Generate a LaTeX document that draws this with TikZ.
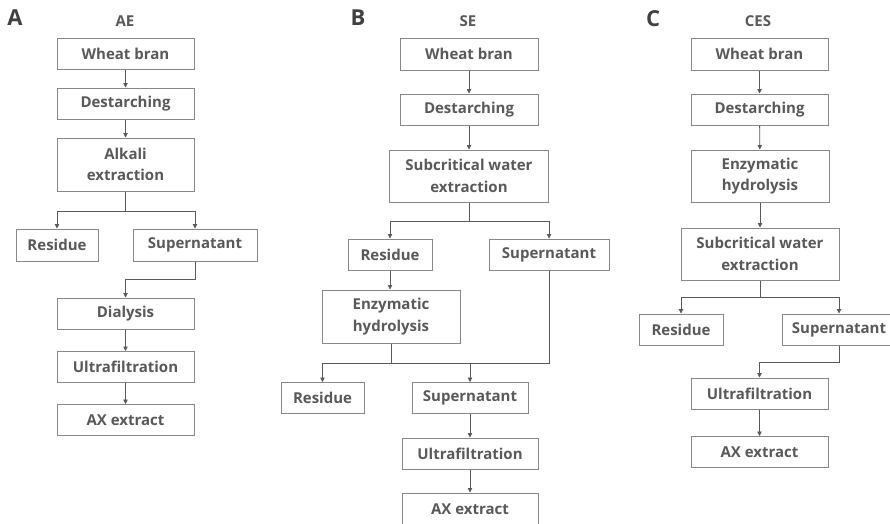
\documentclass[tikz,border=0pt]{standalone}
\usepackage{fontspec}
\setmainfont{Open Sans}
\usetikzlibrary{arrows.meta}
\definecolor{txtgray}{HTML}{595959}
\definecolor{boxgray}{HTML}{888888}
\definecolor{letgray}{HTML}{404040}
\begin{document}
\begin{tikzpicture}[x=1pt,y=-1pt,
  box/.style={draw=boxgray, line width=1pt, inner sep=0pt, text=txtgray,
    font=\fontsize{15}{21.5}\selectfont\bfseries, align=center},
  line/.style={draw=txtgray, line width=0.8pt},
  arr/.style={line, -{Triangle[width=4.5pt,length=4.5pt]}},
  panel/.style={text=letgray, font=\fontsize{22}{22}\selectfont\bfseries, inner sep=0pt},
  ttl/.style={text=txtgray, font=\fontsize{15}{16}\selectfont\bfseries, inner sep=0pt}]
\path[use as bounding box, clip] (0,0) rectangle (890,523);
\fill[white] (0,0) rectangle (890,523);

% ---------- Panel A ----------
\node[panel] (lA) at (15,18) {A};
\node[ttl] (tA) at (125,21) {AE};
\node[box, minimum width=137pt, minimum height=31pt] (wbA) at (125.5,53.5) {Wheat bran};
\node[box, minimum width=137pt, minimum height=31pt] (dsA) at (125.5,103.5) {Destarching};
\node[box, minimum width=137pt, minimum height=53pt] (alA) at (125.5,164.5) {Alkali\\extraction};
\node[box, minimum width=82pt, minimum height=32pt] (reA) at (57,245) {Residue};
\node[box, minimum width=124pt, minimum height=32pt] (suA) at (195,245) {Supernatant};
\node[box, minimum width=137pt, minimum height=31pt] (diA) at (125.5,313.5) {Dialysis};
\node[box, minimum width=137pt, minimum height=31pt] (ufA) at (125.5,367) {Ultrafiltration};
\node[box, minimum width=137pt, minimum height=31pt] (axA) at (125.5,420) {AX extract};
\coordinate (jA) at (125.5,211);
\draw[arr] (wbA) -- (dsA);
\draw[arr] (dsA) -- (alA);
\draw[line] (alA.south) -- (jA);
\draw[arr] (jA) -| (reA.north);
\draw[arr] (jA) -| (suA.north);
\draw[arr] (suA.south) -- ++(0,18) -| (diA.north);
\draw[arr] (diA) -- (ufA);
\draw[arr] (ufA) -- (axA);

% ---------- Panel B ----------
\node[panel] (lB) at (358,18) {B};
\node[ttl] (tB) at (468,21) {SE};
\node[box, minimum width=138pt, minimum height=32pt] (wbB) at (469,54) {Wheat bran};
\node[box, minimum width=138pt, minimum height=31pt] (dsB) at (469,109.5) {Destarching};
\node[box, minimum width=159pt, minimum height=52pt] (scB) at (469,176) {Subcritical water\\extraction};
\node[box, minimum width=84pt, minimum height=31pt] (reB) at (390,254.5) {Residue};
\node[box, minimum width=120pt, minimum height=31pt] (suB) at (549,254.5) {Supernatant};
\node[box, minimum width=138pt, minimum height=53pt] (enB) at (391,316.5) {Enzymatic\\hydrolysis};
\node[box, minimum width=83pt, minimum height=31pt] (reBb) at (322.5,398) {Residue};
\node[box, minimum width=116pt, minimum height=31pt] (suBb) at (470,398) {Supernatant};
\node[box, minimum width=136pt, minimum height=31pt] (ufB) at (470,453.5) {Ultrafiltration};
\node[box, minimum width=136pt, minimum height=33pt] (axB) at (470,509.5) {AX extract};
\coordinate (jB) at (469,221);
\coordinate (jBb) at (391,363);
\draw[arr] (wbB) -- (dsB);
\draw[arr] (dsB) -- (scB);
\draw[line] (scB.south) -- (jB);
\draw[arr] (jB) -| (reB.north);
\draw[arr] (jB) -| (suB.north);
\draw[arr] (reB.south) -- (reB.south |- enB.north);
\draw[line] (enB.south) -- (jBb);
\draw[line] (suB.south) |- (jBb);
\draw[arr] (jBb) -| (reBb.north);
\draw[arr] (jBb) -| (suBb.north);
\draw[arr] (suBb) -- (ufB);
\draw[arr] (ufB) -- (axB);

% ---------- Panel C ----------
\node[panel] (lC) at (653,19) {C};
\node[ttl] (tC) at (758,21) {CES};
\node[box, minimum width=137pt, minimum height=32pt] (wbC) at (759.5,54) {Wheat bran};
\node[box, minimum width=137pt, minimum height=31pt] (dsC) at (759.5,109.5) {Destarching};
\node[box, minimum width=138pt, minimum height=52pt] (enC) at (760,176) {Enzymatic\\hydrolysis};
\node[box, minimum width=158pt, minimum height=52pt] (scC) at (760,254) {Subcritical water\\extraction};
\node[box, minimum width=84pt, minimum height=31pt] (reC) at (681,329.5) {Residue};
\node[box, minimum width=114pt, minimum height=31pt] (suC) at (839,329.5) {Supernatant};
\node[box, minimum width=137pt, minimum height=31pt] (ufC) at (759.5,393.5) {Ultrafiltration};
\node[box, minimum width=137pt, minimum height=31pt] (axC) at (759.5,452) {AX extract};
\coordinate (jC) at (760,297);
\draw[arr] (wbC) -- (dsC);
\draw[arr] (dsC) -- (enC);
\draw[arr] (enC) -- (scC);
\draw[line] (scC.south) -- (jC);
\draw[arr] (jC) -| (reC.north);
\draw[arr] (jC) -| (suC.north);
\draw[arr] (suC.south) -- ++(0,17) -| (ufC.north);
\draw[arr] (ufC) -- (axC);
\end{tikzpicture}
\end{document}
